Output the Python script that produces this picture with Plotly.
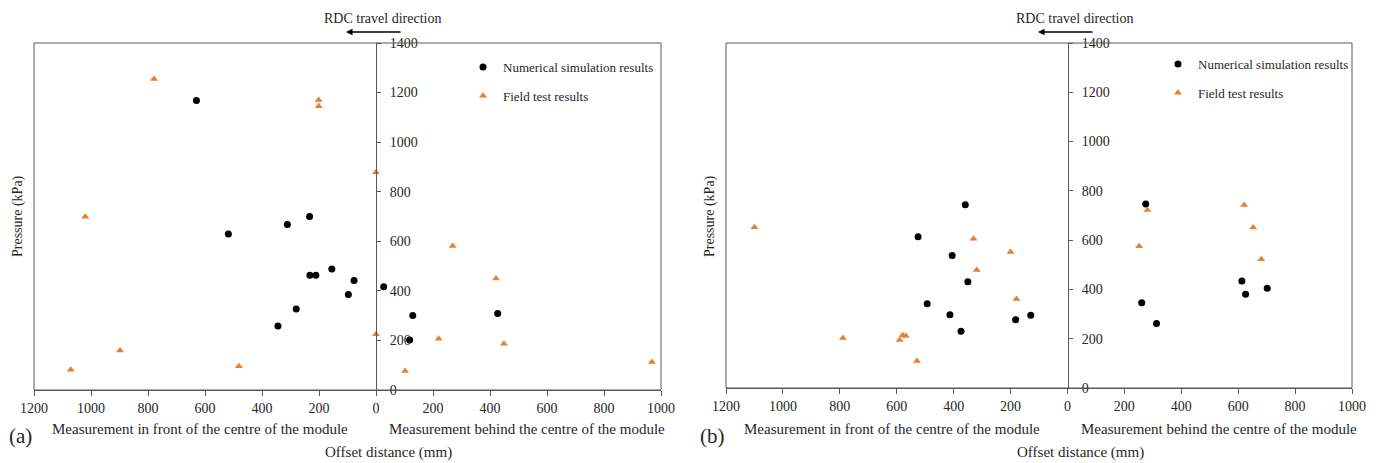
import plotly.graph_objects as go

# ---------------- data ----------------
# Offset distance (mm): negative = in front of module centre, positive = behind
a_num_x = [-630, -518, -311, -233, -232, -211, -155, -77, -97, -280, -344, 27, 129, 118, 427]
a_num_y = [1168, 629, 668, 700, 463, 463, 488, 442, 385, 327, 258, 417, 301, 202, 309]
a_fld_x = [-779, -201, -201, 0, -1020, 0, 220, 102, 269, -1071, -898, -481, 421, 449, 968]
a_fld_y = [1255, 1170, 1145, 879, 699, 225, 207, 77, 581, 82, 159, 96, 450, 187, 113]

b_num_x = [-359, -525, -405, -350, -493, -413, -182, -129, -374, 275, 261, 313, 613, 626, 702]
b_num_y = [744, 614, 538, 431, 342, 297, 277, 295, 230, 747, 346, 262, 434, 380, 405]
b_fld_x = [-1100, -330, -200, -319, -179, -789, -579, -568, -590, -529, 281, 621, 653, 252, 681]
b_fld_y = [652, 606, 552, 479, 361, 203, 214, 211, 195, 110, 722, 743, 651, 575, 522]

x_tickvals = [-1200, -1000, -800, -600, -400, -200, 0, 200, 400, 600, 800, 1000]
x_ticktext = ["1200", "1000", "800", "600", "400", "200", "0", "200", "400", "600", "800", "1000"]
y_tickvals = [0, 200, 400, 600, 800, 1000, 1200, 1400]

num_name = "Numerical simulation results"
fld_name = "Field test results"

W, H = 1383, 463
FONT = "Liberation Serif"
ORANGE = "#ED7D31"
AXC = "#595959"
TXT = "#262626"

def px(xp):
    return xp / W

def py(yp):
    return 1 - yp / H

fig = go.Figure()

fig.add_trace(go.Scatter(x=a_num_x, y=a_num_y, mode="markers", name=num_name,
                         marker=dict(symbol="circle", size=7, color="black"),
                         xaxis="x", yaxis="y", legend="legend", legendgroup="a1"))
fig.add_trace(go.Scatter(x=a_fld_x, y=a_fld_y, mode="markers", name=fld_name,
                         marker=dict(symbol="triangle-up", size=7, color=ORANGE),
                         xaxis="x", yaxis="y", legend="legend", legendgroup="a2"))
fig.add_trace(go.Scatter(x=b_num_x, y=b_num_y, mode="markers", name=num_name,
                         marker=dict(symbol="circle", size=7, color="black"),
                         xaxis="x2", yaxis="y2", legend="legend2", legendgroup="b1"))
fig.add_trace(go.Scatter(x=b_fld_x, y=b_fld_y, mode="markers", name=fld_name,
                         marker=dict(symbol="triangle-up", size=7, color=ORANGE),
                         xaxis="x2", yaxis="y2", legend="legend2", legendgroup="b2"))

tickfont = dict(family=FONT, size=14, color=TXT)

def xaxis(domain, anchor):
    return dict(domain=domain, anchor=anchor, range=[-1200, 1000],
                tickvals=x_tickvals, ticktext=x_ticktext, ticks="outside",
                ticklen=5, tickcolor=AXC, showline=True, linecolor=AXC, linewidth=1,
                showgrid=False, zeroline=False, tickfont=tickfont, fixedrange=True,
                automargin=False)

def yaxis(domain, pos, side, labels):
    return dict(domain=domain, anchor="free", position=pos, side=side,
                range=[0, 1400], tickvals=y_tickvals, ticks="outside", ticklen=4,
                tickcolor=AXC, showline=labels, linecolor=AXC, linewidth=1,
                showgrid=False, zeroline=False, showticklabels=labels,
                tickfont=tickfont, ticklabelstandoff=6, automargin=False)

dom_xa = [px(34), px(661)]
dom_xb = [px(726), px(1352)]
dom_ya = [py(390), py(43)]
dom_yb = [py(388), py(43)]
pos_a = px(376)
pos_b = px(1068)

ya3 = yaxis(dom_ya, pos_a, "left", False)
ya3["overlaying"] = "y"
yb4 = yaxis(dom_yb, pos_b, "left", False)
yb4["overlaying"] = "y2"

legend_style = dict(font=dict(family=FONT, size=13, color=TXT), bgcolor="rgba(0,0,0,0)",
                    tracegroupgap=9, itemwidth=30, xanchor="left", yanchor="top")

fig.update_layout(
    width=W, height=H, margin=dict(l=0, r=0, t=0, b=0, autoexpand=False),
    paper_bgcolor="white", plot_bgcolor="white",
    font=dict(family=FONT, size=14, color=TXT),
    xaxis=xaxis(dom_xa, "y"),
    xaxis2=xaxis(dom_xb, "y2"),
    yaxis=yaxis(dom_ya, pos_a, "right", True),
    yaxis2=yaxis(dom_yb, pos_b, "right", True),
    yaxis3=ya3,
    yaxis4=yb4,
    legend=dict(x=px(463), y=py(52), **legend_style),
    legend2=dict(x=px(1158), y=py(49), **legend_style),
    showlegend=True,
)

# frames around each panel
for xr, yr in (("x domain", "y domain"), ("x2 domain", "y2 domain")):
    fig.add_shape(type="rect", xref=xr, yref=yr, x0=0, x1=1, y0=0, y1=1,
                  line=dict(color=AXC, width=1), fillcolor="rgba(0,0,0,0)", layer="above")

def ann(text, x, y, size=15, **kw):
    fig.add_annotation(text=text, x=x, y=y, xref="paper", yref="paper", showarrow=False,
                       xanchor="center", yanchor="middle",
                       font=dict(family=FONT, size=size, color=TXT), **kw)

for off, lab in ((0, "(a)"), (692, "(b)")):
    ann("RDC travel direction", px(382 + off), py(18), size=14)
    fig.add_annotation(x=px(346 + off), y=py(32), xref="paper", yref="paper",
                       ax=56, ay=0, text="", showarrow=True, arrowhead=2, arrowsize=1,
                       arrowwidth=1.3, arrowcolor="black")
    ann("Measurement in front of the centre of the module", px(200 + off), py(429))
    ann("Measurement behind the centre of the module", px(527 + off), py(429))
    ann("Offset distance (mm)", px(388 + off), py(452))
    ann(lab, px(20 + off), py(436), size=21)
    ann("Pressure (kPa)", px(18 + off), py(216), size=14, textangle=-90)

fig.write_html("out.html", config={"displayModeBar": False},
               post_script="document.body.style.margin='0';document.body.style.overflow='hidden';")
